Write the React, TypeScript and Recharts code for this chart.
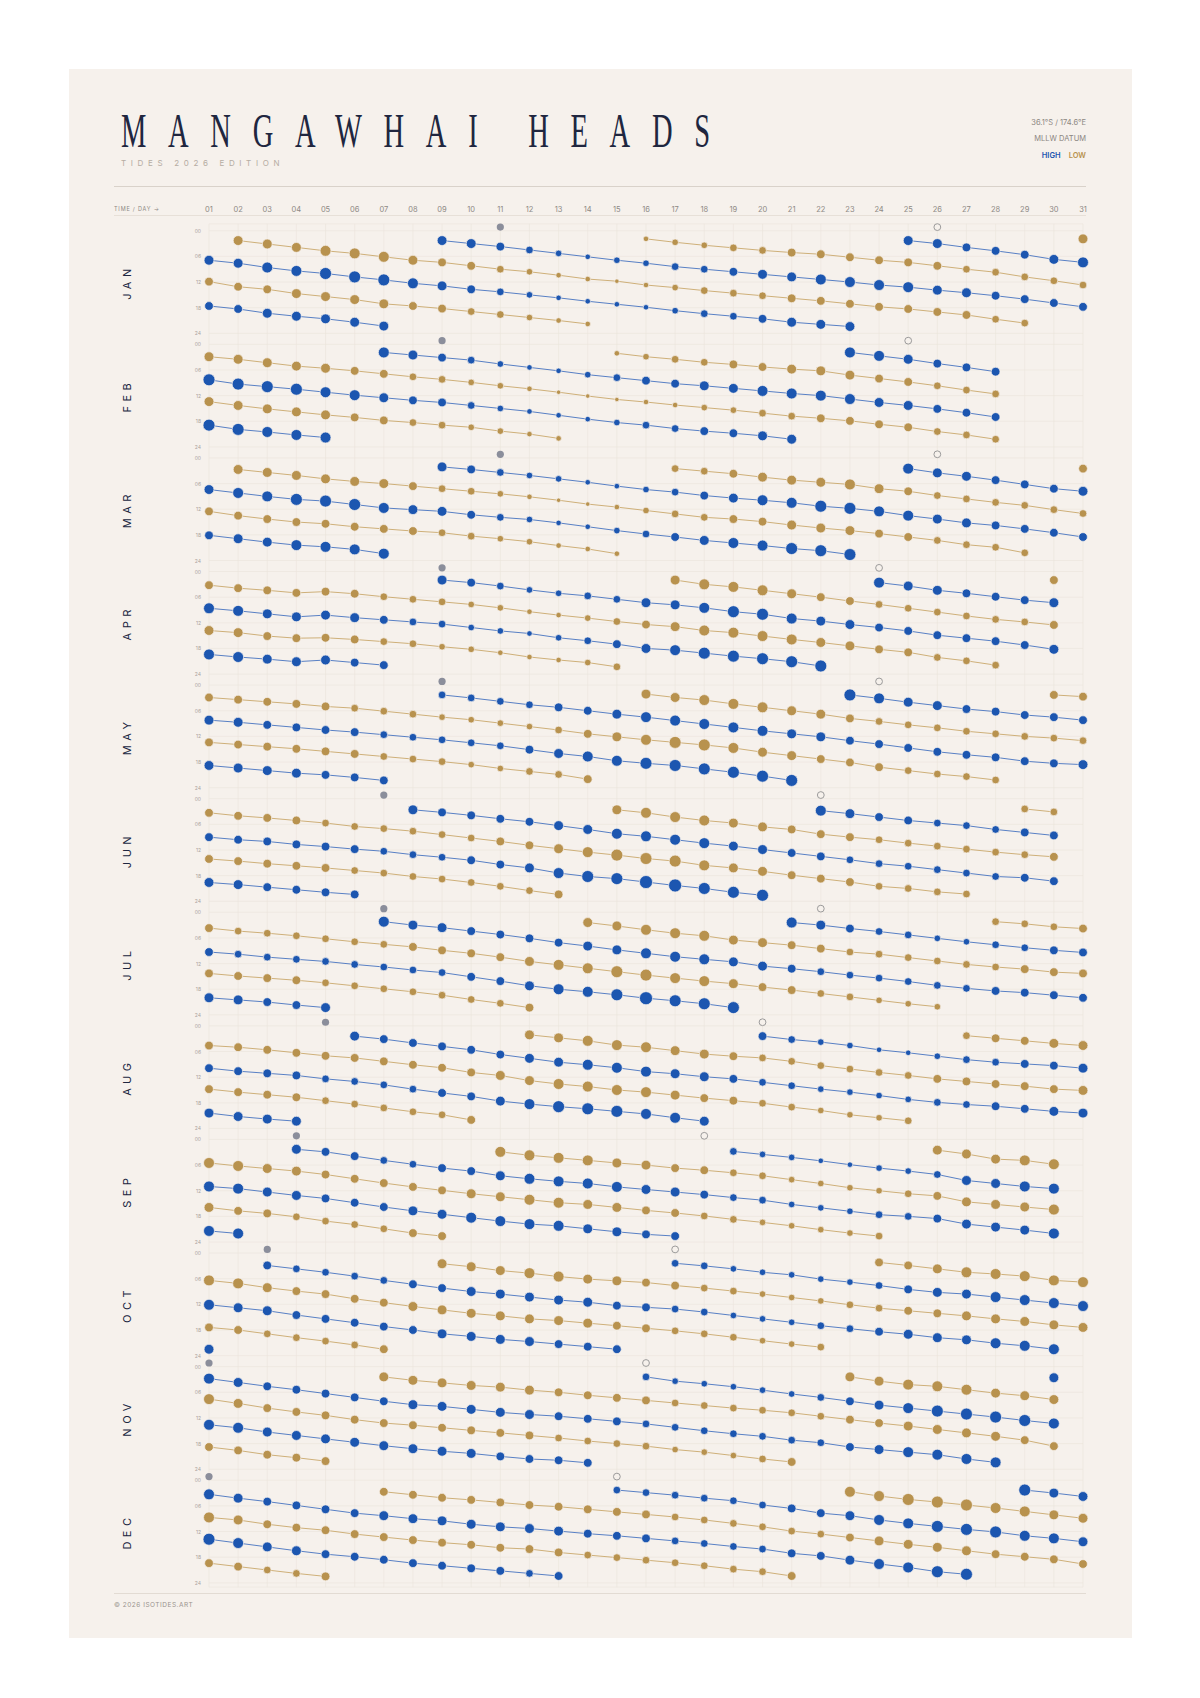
import React from "react";
import { ScatterChart, Scatter, XAxis, YAxis, CartesianGrid } from "recharts";

type Tide = "high" | "low";
type Chain = { tide: Tide; from: number; hours: number[]; mag: number[] };

const MONTHS = ["JAN", "FEB", "MAR", "APR", "MAY", "JUN", "JUL", "AUG", "SEP", "OCT", "NOV", "DEC"];
const DAY_TICKS = [1, 2, 3, 4, 5, 6, 7, 8, 9, 10, 11, 12, 13, 14, 15, 16, 17, 18, 19, 20, 21, 22, 23, 24, 25, 26, 27, 28, 29, 30, 31];
const HOUR_TICKS = [0, 6, 12, 18, 24];
const NEW_MOON_DAY = [11, 9, 11, 9, 9, 7, 7, 5, 4, 3, 1, 1];
const FULL_MOON_DAY = [26, 25, 26, 24, 24, 22, 22, 20, 18, 17, 16, 15];

// each chain = one tide carried from day to day (local time in hours, relative magnitude)
const JAN: Chain[] = [
  { tide: "high", from: 1, hours: [17.6, 18.3, 19.3, 20.0, 20.6, 21.4, 22.3], mag: [3.5, 3.5, 4, 4, 4, 4, 4] },
  { tide: "high", from: 1, hours: [6.9, 7.6, 8.6, 9.4, 10.0, 10.8, 11.5, 12.3, 12.9, 13.7, 14.3, 15.0, 15.7, 16.5, 17.2, 17.9, 18.7, 19.4, 20.0, 20.6, 21.4, 21.9, 22.4], mag: [4, 4, 4.5, 4.5, 5, 5, 5, 4.5, 4, 3.5, 3, 2.5, 2, 2, 2, 2, 2.5, 3, 3, 3.5, 4, 4, 4] },
  { tide: "high", from: 9, hours: [2.3, 3.0, 3.7, 4.5, 5.3, 6.1, 6.9, 7.6, 8.4, 9.0, 9.6, 10.2, 10.8, 11.4, 12.0, 12.7, 13.2, 13.9, 14.5, 15.2, 16.0, 16.9, 17.8], mag: [4, 4, 3.5, 3, 2.5, 2, 2.5, 2.5, 3, 3, 3.5, 4, 4, 4.5, 4.5, 4.5, 4.5, 4, 4, 3.5, 3.5, 3.5, 3.5] },
  { tide: "high", from: 25, hours: [2.3, 3.0, 3.9, 4.7, 5.6, 6.7, 7.4], mag: [4, 4, 3.5, 3.5, 3.5, 4, 4.5] },
  { tide: "low", from: 2, hours: [2.3, 3.1, 3.9, 4.7, 5.3, 6.1, 6.9, 7.4, 8.2, 9.0, 9.6, 10.4, 11.3, 11.8, 12.7, 13.3, 14.0, 14.6, 15.2, 15.8, 16.4, 17.1, 17.8, 18.3, 19.0, 19.7, 20.7, 21.6], mag: [4, 4, 4, 4.5, 4.5, 4.5, 4, 3.5, 3.5, 3, 2.5, 2, 2, 1.5, 2, 2.5, 3, 3, 3, 3.5, 3.5, 3.5, 3.5, 3.5, 3.5, 3.5, 3, 3] },
  { tide: "low", from: 1, hours: [11.9, 13.1, 13.7, 14.7, 15.4, 16.1, 17.1, 17.6, 18.2, 18.9, 19.6, 20.3, 21.0, 21.8], mag: [3.5, 3.5, 3.5, 4, 4, 4, 4, 3.5, 3.5, 3, 3, 2.5, 2, 2] },
  { tide: "low", from: 16, hours: [1.9, 2.7, 3.4, 4.0, 4.6, 5.1, 5.5, 6.2, 6.9, 7.4, 8.2, 9.0, 9.7, 10.8, 11.7, 12.7], mag: [2, 2.5, 2.5, 3, 3, 3.5, 3.5, 3.5, 3.5, 3.5, 3.5, 3, 3, 3, 3, 3] },
  { tide: "low", from: 31, hours: [1.9], mag: [4] },
];

const FEB: Chain[] = [
  { tide: "low", from: 1, hours: [2.9, 3.5, 4.3, 5.1, 5.6, 6.2, 6.9, 7.6, 8.2, 8.9, 9.7, 10.4, 11.2, 12.1, 12.9, 13.5, 14.2, 14.8, 15.4, 16.1, 16.8, 17.3, 17.9, 18.7, 19.4, 20.4, 21.2, 22.2], mag: [4, 4, 4, 4, 4, 3.5, 3.5, 3, 3, 2.5, 2.5, 2, 1.5, 1.5, 1.5, 2, 2, 2.5, 2.5, 3, 3, 3.5, 3.5, 3.5, 3.5, 3, 3, 3] },
  { tide: "low", from: 1, hours: [13.4, 14.3, 15.1, 15.8, 16.5, 17.1, 17.8, 18.3, 18.9, 19.4, 20.3, 21.0, 22.0], mag: [4, 4, 4, 4, 4, 3.5, 3.5, 3, 3, 2.5, 2.5, 2, 2] },
  { tide: "low", from: 15, hours: [2.1, 2.9, 3.5, 4.2, 4.7, 5.3, 5.8, 6.2, 7.2, 8.0, 8.8, 9.7, 10.7, 11.6], mag: [2, 2.5, 3, 3, 3.5, 3.5, 4, 4, 4, 3.5, 3.5, 3, 3, 3] },
  { tide: "high", from: 1, hours: [18.9, 19.9, 20.5, 21.2, 21.8], mag: [5, 5, 4.5, 4.5, 4.5] },
  { tide: "high", from: 1, hours: [8.3, 9.3, 9.9, 10.5, 11.2, 11.9, 12.5, 13.1, 13.6, 14.3, 15.0, 15.7, 16.6, 17.5, 18.3, 18.9, 19.7, 20.3, 20.8, 21.4, 22.2], mag: [5, 5, 5, 5, 4.5, 4.5, 4, 3.5, 3.5, 3, 2.5, 2, 2, 2, 2.5, 3, 3, 3.5, 3.5, 4, 4] },
  { tide: "high", from: 7, hours: [1.9, 2.5, 3.1, 3.7, 4.6, 5.4, 6.2, 7.1, 7.8, 8.5, 9.2, 9.7, 10.3, 10.9, 11.5, 12.0, 12.8, 13.6, 14.3, 15.1, 16.0, 17.0], mag: [4.5, 4, 3.5, 3, 2.5, 2, 2, 2.5, 3, 3.5, 3.5, 4, 4, 4.5, 4.5, 4.5, 4.5, 4, 4, 3.5, 3.5, 3.5] },
  { tide: "high", from: 23, hours: [1.9, 2.7, 3.5, 4.5, 5.4, 6.4], mag: [4.5, 4.5, 4, 3.5, 3.5, 3.5] },
];

const MAR: Chain[] = [
  { tide: "low", from: 2, hours: [2.7, 3.4, 4.1, 4.9, 5.5, 6.0, 6.6, 7.2, 7.8, 8.4, 9.1, 9.9, 10.8, 11.5, 12.3, 13.1, 13.9, 14.3, 14.9, 15.7, 16.4, 17.0, 17.7, 18.5, 19.3, 20.3, 20.9, 22.2], mag: [4, 4, 4, 4, 4, 4, 3.5, 3, 3, 2.5, 2, 1.5, 1.5, 2, 2.5, 3, 3, 3.5, 3.5, 4, 4, 4, 3.5, 3.5, 3, 3, 3, 3] },
  { tide: "high", from: 1, hours: [7.4, 8.2, 9.0, 9.7, 10.1, 10.9, 11.7, 12.1, 12.5, 13.3, 13.9, 14.4, 15.2, 16.1, 17.0, 17.8, 18.5, 19.3, 19.9, 20.5, 21.2, 21.7, 22.6], mag: [4, 4.5, 4.5, 5, 5, 5, 4.5, 4, 4, 3.5, 3, 2.5, 2, 2, 2.5, 3, 3.5, 4, 4.5, 4.5, 5, 5, 5] },
  { tide: "high", from: 9, hours: [2.1, 2.7, 3.4, 4.1, 4.9, 5.7, 6.6, 7.4, 8.0, 8.8, 9.4, 9.9, 10.5, 11.3, 11.8, 12.5, 13.5, 14.3, 15.2, 15.8, 16.6, 17.5, 18.5], mag: [4, 3.5, 3, 2.5, 2.5, 2, 2, 2.5, 3, 3.5, 4, 4.5, 4.5, 5, 5, 4.5, 4.5, 4, 4, 3.5, 3.5, 3.5, 3.5] },
  { tide: "high", from: 25, hours: [2.5, 3.5, 4.3, 5.2, 6.2, 7.2, 7.8], mag: [4.5, 4, 4, 3.5, 3.5, 3.5, 4] },
  { tide: "high", from: 1, hours: [18.1, 18.9, 19.7, 20.4, 20.8, 21.4, 22.4], mag: [3.5, 4, 4, 4.5, 4.5, 4.5, 4.5] },
  { tide: "low", from: 1, hours: [12.5, 13.5, 14.3, 15.0, 15.4, 16.1, 16.6, 17.1, 17.5, 18.3, 18.9, 19.6, 20.5, 21.3, 22.4], mag: [3.5, 3.5, 3.5, 3.5, 3.5, 3.5, 3.5, 3.5, 3, 3, 2.5, 2.5, 2, 2, 2] },
  { tide: "low", from: 17, hours: [2.5, 3.1, 3.7, 4.5, 5.2, 5.7, 6.2, 7.2, 7.8, 8.8, 9.6, 10.4, 11.1, 12.1, 13.0], mag: [3, 3, 3.5, 4, 4, 4, 4.5, 4, 3.5, 3, 3, 3, 3, 3, 3] },
  { tide: "low", from: 31, hours: [2.5], mag: [3.5] },
];

const APR: Chain[] = [
  { tide: "low", from: 1, hours: [3.2, 3.9, 4.4, 5.0, 4.7, 5.2, 5.9, 6.5, 7.1, 7.7, 8.5, 9.4, 10.2, 10.9, 11.7, 12.4, 12.9, 13.8, 14.3, 15.1, 15.9, 16.6, 17.4, 18.2, 18.9, 20.1, 20.9, 21.9], mag: [3.5, 3.5, 3.5, 3.5, 3.5, 3.5, 3, 3, 3, 2.5, 2.5, 2, 2, 2.5, 3, 3.5, 4, 4.5, 4.5, 4.5, 4.5, 4, 4, 3.5, 3.5, 3, 3, 3] },
  { tide: "high", from: 1, hours: [8.6, 9.2, 9.9, 10.6, 10.2, 10.8, 11.3, 11.8, 12.3, 13.1, 13.9, 14.5, 15.5, 16.2, 17.0, 18.0, 18.4, 19.1, 19.8, 20.4, 21.1, 22.1], mag: [4.5, 4.5, 4, 4, 4, 4, 3.5, 3, 3, 2.5, 2.5, 2, 2.5, 3, 3.5, 4, 4.5, 5, 5, 5, 5, 5] },
  { tide: "high", from: 9, hours: [2.0, 2.6, 3.4, 4.3, 5.1, 5.7, 6.5, 7.3, 7.8, 8.5, 9.4, 10.0, 11.0, 11.6, 12.4, 13.1, 13.9, 14.9, 15.6, 16.3, 17.2, 18.2], mag: [4, 3.5, 3, 2.5, 2.5, 3, 3, 4, 4, 4.5, 5, 5, 4.5, 4, 4, 3.5, 3.5, 3.5, 3.5, 3.5, 3.5, 4] },
  { tide: "high", from: 24, hours: [2.6, 3.4, 4.4, 5.1, 5.9, 6.7, 7.3], mag: [4.5, 4, 4, 3.5, 3.5, 3.5, 4] },
  { tide: "high", from: 1, hours: [19.4, 20.0, 20.5, 21.1, 20.7, 21.3, 21.9], mag: [4.5, 4.5, 4, 4, 4, 3.5, 3.5] },
  { tide: "low", from: 1, hours: [13.8, 14.3, 15.1, 15.6, 15.5, 15.9, 16.4, 16.9, 17.6, 18.2, 19.0, 20.0, 20.7, 21.3, 22.3], mag: [4, 4, 3.5, 3.5, 3.5, 3.5, 3, 3, 2.5, 2.5, 2, 2, 2, 2.5, 3] },
  { tide: "low", from: 17, hours: [2.0, 3.0, 3.6, 4.4, 5.2, 6.0, 6.9, 7.7, 8.6, 9.5, 10.4, 11.2, 11.8, 12.5], mag: [4, 4.5, 4.5, 4.5, 4, 3.5, 3.5, 3, 3, 3, 3, 3, 3, 3.5] },
  { tide: "low", from: 30, hours: [2.0], mag: [3.5] },
];

const MAY: Chain[] = [
  { tide: "low", from: 1, hours: [2.9, 3.4, 3.9, 4.4, 5.0, 5.4, 6.1, 6.8, 7.5, 8.1, 8.9, 9.7, 10.5, 11.4, 12.1, 12.8, 13.4, 14.0, 14.7, 15.7, 16.5, 17.3, 18.1, 19.2, 20.0, 20.8, 21.4, 22.2], mag: [3.5, 3.5, 3.5, 3.5, 3.5, 3, 3, 3, 2.5, 2.5, 2.5, 2.5, 3, 3.5, 4, 4.5, 5, 5, 4.5, 4, 4, 3.5, 3.5, 3.5, 3, 3, 3, 3] },
  { tide: "high", from: 1, hours: [8.2, 8.7, 9.3, 9.9, 10.5, 11.0, 11.6, 12.2, 12.8, 13.5, 14.2, 15.1, 16.0, 16.7, 17.7, 18.3, 18.8, 19.6, 20.4, 21.3, 22.3], mag: [4, 4, 3.5, 3.5, 3.5, 3.5, 3, 3, 3, 3, 3, 3.5, 4, 4.5, 4.5, 5, 5, 5, 5, 5, 5] },
  { tide: "low", from: 1, hours: [13.4, 13.9, 14.4, 14.9, 15.5, 16.1, 16.7, 17.3, 17.9, 18.6, 19.5, 20.2, 20.9, 22.0], mag: [3.5, 3.5, 3.5, 3.5, 3.5, 3.5, 3, 3, 3, 2.5, 2.5, 3, 3, 3.5] },
  { tide: "high", from: 1, hours: [18.8, 19.4, 20.0, 20.6, 21.0, 21.6, 22.3], mag: [4, 4, 4, 4, 3.5, 3.5, 3.5] },
  { tide: "high", from: 9, hours: [2.3, 3.0, 3.8, 4.6, 5.2, 6.0, 6.8, 7.5, 8.3, 9.1, 9.9, 10.7, 11.4, 12.1, 13.0, 13.8, 14.7, 15.6, 16.3, 16.9, 17.8, 18.3, 18.6], mag: [3, 3, 3, 3, 3.5, 3.5, 4, 4.5, 4.5, 4.5, 4.5, 4.5, 4, 4, 3.5, 3.5, 3.5, 3.5, 3.5, 3.5, 3.5, 3.5, 4] },
  { tide: "low", from: 16, hours: [2.1, 2.9, 3.5, 4.4, 5.2, 6.0, 6.8, 7.8, 8.5, 9.3, 10.0, 10.8, 11.4, 12.0, 12.4, 13.0], mag: [4, 4, 4.5, 4.5, 4.5, 4, 4, 3.5, 3, 3, 3, 3, 3, 3, 3, 3] },
  { tide: "high", from: 23, hours: [2.3, 3.1, 4.0, 4.8, 5.6, 6.2, 7.0, 7.5, 8.2], mag: [5, 4.5, 4, 4, 3.5, 3.5, 3.5, 3.5, 3.5] },
  { tide: "low", from: 30, hours: [2.3, 2.7], mag: [3.5, 3.5] },
];

const JUN: Chain[] = [
  { tide: "low", from: 1, hours: [3.3, 4.0, 4.5, 5.1, 5.7, 6.5, 7.0, 7.6, 8.4, 9.2, 10.0, 10.9, 11.7, 12.5, 13.2, 14.0, 14.6, 15.6, 16.2, 17.0, 17.9, 18.7, 19.5, 20.5, 21.0, 21.8, 22.3], mag: [3.5, 3.5, 3.5, 3.5, 3, 3, 3, 3, 3, 3, 3.5, 3.5, 4, 4.5, 5, 5, 5, 4.5, 4, 4, 3.5, 3.5, 3.5, 3, 3, 3, 3] },
  { tide: "high", from: 1, hours: [9.0, 9.6, 10.0, 10.7, 11.2, 11.8, 12.3, 13.1, 13.7, 14.4, 15.4, 16.2, 17.4, 18.2, 18.7, 19.5, 20.3, 21.0, 21.9, 22.6], mag: [3.5, 3.5, 3.5, 3.5, 3.5, 3.5, 3, 3, 3, 3.5, 3.5, 4, 4.5, 5, 5, 5.5, 5.5, 5, 5, 5] },
  { tide: "low", from: 1, hours: [14.1, 14.6, 15.2, 15.7, 16.2, 16.8, 17.4, 18.2, 18.8, 19.6, 20.5, 21.5, 22.4], mag: [3.5, 3.5, 3.5, 3.5, 3.5, 3, 3, 3, 3, 3, 3, 3, 3.5] },
  { tide: "high", from: 1, hours: [19.6, 20.1, 20.7, 21.3, 21.9, 22.4], mag: [4, 4, 3.5, 3.5, 3.5, 3.5] },
  { tide: "high", from: 8, hours: [2.6, 3.2, 3.9, 4.7, 5.4, 6.3, 7.2, 8.2, 8.8, 9.6, 10.4, 11.1, 11.9, 12.7, 13.5, 14.3, 15.2, 15.8, 16.6, 17.4, 18.2, 18.5, 19.3], mag: [4, 3.5, 3.5, 3.5, 3.5, 4, 4, 4.5, 4.5, 4.5, 4.5, 4, 4, 3.5, 3.5, 3, 3, 3, 3, 3, 3, 3.5, 3.5] },
  { tide: "low", from: 15, hours: [2.6, 3.3, 4.3, 5.1, 5.7, 6.6, 7.2, 8.3, 9.0, 9.6, 10.4, 11.1, 11.8, 12.5, 13.1, 13.6], mag: [4, 4.5, 4.5, 4.5, 4, 4, 3.5, 3.5, 3.5, 3, 3, 3, 3, 3, 3, 3.5] },
  { tide: "high", from: 22, hours: [2.8, 3.5, 4.3, 5.1, 5.7, 6.3, 7.2, 7.9, 8.6], mag: [4.5, 4, 3.5, 3.5, 3, 3, 3, 3.5, 3.5] },
  { tide: "low", from: 29, hours: [2.4, 3.1], mag: [3, 3] },
];

const JUL: Chain[] = [
  { tide: "low", from: 1, hours: [3.7, 4.4, 4.9, 5.5, 6.2, 6.9, 7.5, 8.1, 8.9, 9.6, 10.5, 11.5, 12.3, 13.1, 13.9, 14.7, 15.4, 16.1, 16.7, 17.5, 18.2, 19.0, 19.8, 20.6, 21.4, 22.1], mag: [3.5, 3, 3, 3, 3, 3, 3, 3.5, 3.5, 3.5, 3.5, 4, 4.5, 4.5, 5, 5, 4.5, 4.5, 4, 3.5, 3.5, 3, 3, 2.5, 2.5, 2.5] },
  { tide: "high", from: 1, hours: [9.3, 9.8, 10.5, 11.0, 11.5, 12.2, 12.8, 13.5, 14.1, 15.1, 16.1, 17.2, 18.0, 18.6, 19.3, 20.1, 20.7, 21.4, 22.3], mag: [3.5, 3, 3, 3, 3, 3, 3, 3, 3, 3.5, 3.5, 4, 4.5, 4.5, 5, 5.5, 5, 5, 5] },
  { tide: "low", from: 1, hours: [14.3, 14.9, 15.4, 15.9, 16.5, 17.2, 17.9, 18.6, 19.4, 20.4, 21.3, 22.3], mag: [3.5, 3.5, 3.5, 3.5, 3, 3, 3, 3, 3, 3, 3, 3.5] },
  { tide: "high", from: 1, hours: [20.0, 20.5, 21.0, 21.7, 22.3], mag: [4, 4, 3.5, 3.5, 4] },
  { tide: "high", from: 7, hours: [2.2, 3.0, 3.6, 4.4, 5.2, 6.1, 7.1, 7.9, 8.8, 9.6, 10.4, 11.0, 11.6, 12.6, 13.2, 13.9, 14.7, 15.4, 16.2, 17.1, 17.8, 18.4, 18.8, 19.4, 20.0], mag: [4.5, 4, 4, 3.5, 3.5, 3.5, 3.5, 4, 4, 4.5, 4.5, 4.5, 4, 4, 3.5, 3, 3, 3, 3, 3, 3, 3.5, 3.5, 3.5, 3.5] },
  { tide: "low", from: 14, hours: [2.4, 3.2, 4.1, 4.9, 5.5, 6.5, 7.1, 7.7, 8.5, 9.3, 9.8, 10.6, 11.4, 12.2, 12.8, 13.3, 14.0, 14.3], mag: [4, 4, 4.5, 4.5, 4.5, 4, 4, 3.5, 3.5, 3, 3, 3, 3, 3, 3, 3.5, 3.5, 3.5] },
  { tide: "high", from: 21, hours: [2.4, 3.0, 3.8, 4.5, 5.3, 6.1, 6.9, 7.6, 8.3, 8.9, 9.4], mag: [4.5, 4, 3.5, 3, 3, 2.5, 2.5, 3, 3, 3.5, 3.5] },
  { tide: "low", from: 28, hours: [2.2, 2.7, 3.4, 3.8], mag: [3, 3, 3, 3.5] },
];

const AUG: Chain[] = [
  { tide: "low", from: 1, hours: [4.6, 5.0, 5.6, 6.3, 7.0, 7.5, 8.3, 9.1, 9.8, 10.9, 11.6, 12.8, 13.6, 14.2, 15.0, 15.5, 16.2, 16.9, 17.5, 18.1, 19.0, 19.8, 20.8, 21.5, 22.2], mag: [3.5, 3.5, 3.5, 3.5, 3.5, 3.5, 3.5, 3.5, 3.5, 3.5, 4, 4, 4.5, 4.5, 4.5, 4.5, 4, 3.5, 3.5, 3, 3, 2.5, 2.5, 2.5, 3] },
  { tide: "high", from: 1, hours: [9.9, 10.6, 11.1, 11.6, 12.4, 13.0, 13.8, 14.8, 15.7, 16.5, 17.6, 18.3, 18.9, 19.4, 20.0, 20.6, 21.5, 22.3], mag: [3.5, 3.5, 3.5, 3.5, 3, 3, 3, 3, 3.5, 3.5, 4, 4.5, 5, 5, 5, 4.5, 4.5, 4] },
  { tide: "low", from: 1, hours: [14.8, 15.5, 16.1, 16.7, 17.5, 18.3, 19.2, 20.1, 20.8, 22.0], mag: [3.5, 3.5, 3.5, 3.5, 3, 3, 3, 3, 3, 3.5] },
  { tide: "high", from: 1, hours: [20.4, 21.2, 21.8, 22.3], mag: [4, 4, 4, 4] },
  { tide: "high", from: 6, hours: [2.4, 3.1, 4.0, 4.8, 5.6, 6.7, 7.6, 8.5, 9.1, 9.8, 10.7, 11.2, 11.9, 12.4, 13.2, 14.0, 14.8, 15.5, 16.3, 17.2, 17.9, 18.4, 18.8, 19.4, 20.0, 20.4], mag: [4, 3.5, 3.5, 3.5, 3.5, 3.5, 4, 4, 4.5, 4.5, 4.5, 4, 4, 3.5, 3, 3, 2.5, 2.5, 2.5, 2.5, 3, 3, 3.5, 3.5, 4, 4] },
  { tide: "low", from: 12, hours: [2.1, 2.8, 3.5, 4.5, 5.0, 5.8, 6.6, 7.1, 7.5, 8.3, 9.3, 10.1, 10.9, 11.6, 12.4, 13.0, 13.6, 14.1, 14.8, 15.1], mag: [4, 4, 4.5, 4.5, 4.5, 4, 4, 3.5, 3, 3, 3, 3, 3, 3, 3.5, 3.5, 3.5, 3.5, 3.5, 4] },
  { tide: "high", from: 20, hours: [2.4, 3.2, 3.8, 4.6, 5.6, 6.3, 7.1, 7.9, 8.5, 8.9, 9.3, 9.9], mag: [3.5, 3, 2.5, 2.5, 2, 2, 2.5, 3, 3, 3.5, 3.5, 4] },
  { tide: "low", from: 27, hours: [2.3, 2.9, 3.5, 4.1, 4.6], mag: [3, 3.5, 3.5, 4, 4] },
];

const SEP: Chain[] = [
  { tide: "low", from: 1, hours: [5.5, 6.2, 6.8, 7.4, 8.2, 9.2, 10.2, 11.1, 11.9, 12.7, 13.4, 14.1, 14.8, 15.2, 15.9, 16.6, 17.2, 17.9, 18.7, 19.4, 20.2, 21.1, 21.9, 22.6], mag: [4.5, 4.5, 4, 4, 3.5, 3.5, 3.5, 3.5, 3.5, 4, 4, 4.5, 4.5, 4, 4, 3.5, 3.5, 3, 3, 2.5, 2.5, 2.5, 2.5, 3] },
  { tide: "high", from: 1, hours: [11.0, 11.5, 12.3, 13.1, 13.8, 14.8, 15.8, 16.7, 17.5, 18.3, 19.1, 19.8, 20.2, 20.9, 21.6, 22.2, 22.6], mag: [4.5, 4.5, 4, 4, 3.5, 3.5, 3.5, 4, 4, 4.5, 4.5, 4.5, 4.5, 4, 4, 3.5, 3.5] },
  { tide: "low", from: 1, hours: [15.9, 16.7, 17.3, 18.1, 19.1, 19.9, 20.9, 21.9, 22.6], mag: [4, 3.5, 3.5, 3, 3, 3, 3, 3.5, 3.5] },
  { tide: "high", from: 1, hours: [21.4, 22.0], mag: [4.5, 4.5] },
  { tide: "high", from: 4, hours: [2.3, 2.9, 3.9, 4.9, 5.8, 6.7, 7.4, 8.5, 9.2, 9.8, 10.3, 11.1, 11.7, 12.3, 12.9, 13.6, 14.2, 15.2, 16.0, 16.8, 17.6, 18.0, 18.5, 19.8, 20.5, 21.2, 22.0], mag: [4, 3.5, 3.5, 3, 3, 3.5, 3.5, 4, 4.5, 4.5, 4.5, 4.5, 4, 4, 3.5, 3, 3, 2.5, 2.5, 2.5, 3, 3, 3.5, 4, 4, 4, 4.5] },
  { tide: "low", from: 11, hours: [2.9, 3.7, 4.3, 4.9, 5.5, 6.0, 6.7, 7.2, 7.8, 8.5, 9.4, 10.3, 11.3, 12.0, 12.7, 13.2, 14.6, 15.2, 15.8, 16.4], mag: [4.5, 4.5, 4.5, 4.5, 4, 4, 3.5, 3.5, 3, 3, 2.5, 2.5, 2.5, 2.5, 3, 3.5, 4, 4, 4, 4.5] },
  { tide: "high", from: 19, hours: [2.8, 3.5, 4.2, 5.0, 5.9, 6.7, 7.4, 8.2, 9.6, 10.3, 11.0, 11.5], mag: [3, 2.5, 2.5, 2, 2, 2.5, 2.5, 3, 4, 4, 4.5, 4.5] },
  { tide: "low", from: 26, hours: [2.5, 3.4, 4.6, 4.9, 5.8], mag: [4, 4, 4, 4.5, 4.5] },
];

const OCT: Chain[] = [
  { tide: "low", from: 1, hours: [6.4, 7.1, 8.1, 8.9, 9.6, 10.7, 11.6, 12.5, 13.3, 14.1, 14.7, 15.4, 15.8, 16.4, 17.0, 17.6, 18.2, 18.9, 19.7, 20.5, 21.3, 22.0], mag: [4.5, 4.5, 4, 3.5, 3.5, 3.5, 3.5, 4, 4, 4, 4, 4, 4, 4, 3.5, 3.5, 3, 3, 3, 2.5, 2.5, 3] },
  { tide: "high", from: 1, hours: [12.1, 12.8, 13.5, 14.5, 15.4, 16.3, 17.2, 18.0, 18.9, 19.5, 20.2, 20.7, 21.3, 21.9, 22.5], mag: [4.5, 4, 4, 3.5, 3.5, 3.5, 3.5, 3.5, 4, 4, 4, 4, 3.5, 3.5, 3.5] },
  { tide: "low", from: 1, hours: [17.4, 18.0, 18.9, 19.8, 20.6, 21.5, 22.5], mag: [3.5, 3.5, 3, 3, 3, 3, 3.5] },
  { tide: "high", from: 1, hours: [22.5], mag: [4] },
  { tide: "high", from: 3, hours: [2.9, 3.7, 4.5, 5.4, 6.4, 7.3, 8.2, 9.0, 9.6, 10.3, 11.0, 11.5, 12.3, 12.7, 13.1, 13.8, 14.6, 15.4, 16.2, 17.0, 17.7, 18.4, 19.0, 19.8, 20.3, 21.1, 21.7, 22.5], mag: [3.5, 3, 3, 3, 3, 3.5, 3.5, 4, 4, 4, 4, 4, 3.5, 3.5, 3, 3, 2.5, 2.5, 2.5, 3, 3, 3.5, 4, 4, 4, 4.5, 4.5, 4.5] },
  { tide: "low", from: 9, hours: [2.5, 3.2, 4.1, 4.7, 5.5, 6.1, 6.5, 6.9, 7.6, 8.2, 8.9, 9.6, 10.4, 11.2, 12.1, 12.9, 13.5, 14.1, 14.7, 15.4, 16.0, 16.8, 17.4], mag: [4, 4, 4, 4.5, 4.5, 4, 4, 3.5, 3.5, 3, 3, 2.5, 2.5, 2.5, 3, 3, 3.5, 3.5, 4, 4, 4, 4, 4] },
  { tide: "high", from: 17, hours: [2.4, 3.0, 3.7, 4.5, 5.1, 6.1, 6.8, 7.6, 8.5, 9.2, 9.6, 10.3, 11.0, 11.7, 12.4], mag: [3, 3, 2.5, 2.5, 2.5, 2.5, 2.5, 3, 3.5, 4, 4, 4.5, 4.5, 4.5, 4.5] },
  { tide: "low", from: 24, hours: [2.2, 2.9, 3.7, 4.5, 4.9, 5.4, 6.4, 6.8], mag: [3.5, 3.5, 4, 4.5, 4.5, 4.5, 4.5, 4.5] },
];

const NOV: Chain[] = [
  { tide: "high", from: 1, hours: [2.8, 3.7, 4.6, 5.4, 6.3, 7.2, 8.1, 8.9, 9.3, 10.0, 10.7, 11.2, 11.6, 12.2, 12.8, 13.4, 14.2, 15.0, 15.7, 16.3, 17.2, 17.8, 18.8, 19.4, 20.0, 20.6, 21.6, 22.4], mag: [4.5, 4, 3.5, 3.5, 3.5, 3.5, 3.5, 4, 4, 4, 4, 4, 3.5, 3.5, 3.5, 3, 3, 3, 3, 3, 3, 3, 3.5, 4, 4.5, 4.5, 4.5, 4.5] },
  { tide: "low", from: 1, hours: [7.6, 8.6, 9.7, 10.6, 11.4, 12.4, 13.2, 13.7, 14.3, 14.9, 15.5, 16.1, 16.7, 17.4, 18.0, 18.6, 19.4, 20.0, 20.8, 21.6, 22.3], mag: [4.5, 4, 3.5, 3.5, 3.5, 3.5, 3.5, 3.5, 3.5, 3.5, 3.5, 3.5, 3, 3, 3, 3, 2.5, 2.5, 2.5, 3, 3.5] },
  { tide: "high", from: 1, hours: [13.6, 14.3, 15.3, 16.1, 16.9, 17.7, 18.5, 19.2, 19.8, 20.3, 21.0, 21.6, 21.9, 22.5], mag: [4.5, 4.5, 4, 4, 4, 4, 4, 4, 4, 4, 3.5, 3.5, 3.5, 3.5] },
  { tide: "low", from: 1, hours: [18.8, 19.6, 20.6, 21.3, 22.1], mag: [3.5, 3.5, 3.5, 3.5, 3.5] },
  { tide: "low", from: 7, hours: [2.4, 3.2, 3.8, 4.4, 4.8, 5.5, 6.0, 6.7, 7.3, 7.9, 8.5, 9.1, 9.7, 10.2, 10.8, 11.6, 12.4, 13.2, 13.9, 14.7, 15.5, 16.3, 17.2, 18.6], mag: [4, 4, 4, 4, 4, 4, 3.5, 3.5, 3.5, 3.5, 3, 3, 3, 3, 3, 3, 3.5, 3.5, 4, 4, 4, 4, 3.5, 3.5] },
  { tide: "high", from: 16, hours: [2.4, 3.4, 4.0, 4.7, 5.5, 6.4, 7.2, 8.1, 9.0, 9.7, 10.4, 11.1, 11.8, 12.6, 13.3], mag: [3, 2.5, 2.5, 2.5, 2.5, 2.5, 3, 3.5, 4, 4.5, 5, 5, 5, 5, 4.5] },
  { tide: "low", from: 23, hours: [2.4, 3.4, 4.2, 4.6, 5.4, 6.2, 6.8, 7.7], mag: [4, 4, 4.5, 4.5, 4.5, 4, 4, 4] },
  { tide: "high", from: 30, hours: [2.6], mag: [4] },
];

const DEC: Chain[] = [
  { tide: "high", from: 1, hours: [3.3, 4.2, 5.0, 5.9, 6.8, 7.7, 8.3, 9.0, 9.5, 10.3, 10.9, 11.3, 11.9, 12.5, 13.0, 13.6, 14.2, 14.8, 15.5, 16.1, 17.1, 17.7, 18.7, 19.6, 20.4, 21.4, 22.0], mag: [4.5, 4, 3.5, 3.5, 3.5, 3.5, 4, 4, 4, 4, 4, 4, 4, 3.5, 3.5, 3.5, 3, 3, 3, 3, 3.5, 3.5, 4, 4.5, 4.5, 5, 5] },
  { tide: "low", from: 1, hours: [8.7, 9.3, 10.3, 11.1, 11.7, 12.6, 13.3, 14.0, 14.6, 15.1, 15.8, 16.1, 16.9, 17.5, 18.1, 18.7, 19.3, 20.0, 20.8, 21.4, 22.4], mag: [4.5, 4, 3.5, 3.5, 3.5, 3.5, 3.5, 3.5, 3.5, 3.5, 3.5, 3.5, 3.5, 3, 3, 3, 3, 3, 3, 3, 3.5] },
  { tide: "high", from: 1, hours: [13.8, 14.7, 15.6, 16.5, 17.3, 17.9, 18.6, 19.4, 20.0, 20.6, 21.2, 21.8, 22.4], mag: [5, 4.5, 4, 4, 3.5, 3.5, 3.5, 3.5, 3.5, 3.5, 3.5, 3, 3.5] },
  { tide: "low", from: 1, hours: [19.4, 20.2, 21.0, 21.8, 22.5], mag: [3.5, 3.5, 3, 3, 3.5] },
  { tide: "low", from: 7, hours: [2.7, 3.4, 4.1, 4.6, 5.2, 5.8, 6.2, 6.8, 7.4, 8.0, 8.6, 9.3, 10.1, 10.9, 11.9, 12.6, 13.4, 14.2, 15.0, 15.7, 16.5, 17.3, 17.9, 18.5, 19.6], mag: [3.5, 3.5, 3.5, 3.5, 3.5, 3.5, 3.5, 3.5, 3.5, 3.5, 3, 3, 3, 3, 3, 3, 3.5, 4, 4, 4, 4, 3.5, 3.5, 3.5, 3.5] },
  { tide: "high", from: 15, hours: [2.3, 2.9, 3.5, 4.2, 4.8, 5.8, 6.6, 7.7, 8.3, 9.3, 10.1, 10.8, 11.5, 12.1, 13.0, 13.6, 14.4], mag: [3, 3, 3, 3, 3, 3, 3.5, 3.5, 4, 4.5, 4.5, 5, 5, 5, 4.5, 4.5, 4] },
  { tide: "low", from: 23, hours: [2.7, 3.7, 4.5, 5.1, 5.8, 6.5, 7.3, 8.1, 8.9], mag: [4.5, 4.5, 5, 5, 5, 4.5, 4.5, 4, 4] },
  { tide: "high", from: 29, hours: [2.3, 3.0, 3.8], mag: [5, 4, 4] },
];

const YEAR = [JAN, FEB, MAR, APR, MAY, JUN, JUL, AUG, SEP, OCT, NOV, DEC];

// ---- layout / style
const W = 1200;
const H = 1698;
const PITCH = 26.57; // one month band (24h + gap), in hour units
const Y_MIN = -1.6;
const Y_MAX = 11 * PITCH + 25;
const BG = "#f6f1ec";
const BLUE = "#1c56b0";
const GOLD = "#b8924e";
const BLUE_LINE = "#4673c0";
const GOLD_LINE = "#c9a86c";
const INK = "#20263f";
const SANS = "Inter, 'Noto Sans', sans-serif";
const MOON_OFFSET = -0.85;

const pad2 = (n: number) => String(n).padStart(2, "0");
const radius = (mag: number) => 0.6 + 1.08 * mag;

const series = YEAR.flatMap((chains, m) =>
  chains.map((c, i) => ({
    key: `${m}-${i}`,
    tide: c.tide,
    data: c.hours.map((h, j) => ({ x: c.from + j, y: m * PITCH + h, mag: c.mag[j] })),
  }))
);
const newMoons = NEW_MOON_DAY.map((d, m) => ({ x: d, y: m * PITCH + MOON_OFFSET }));
const fullMoons = FULL_MOON_DAY.map((d, m) => ({ x: d, y: m * PITCH + MOON_OFFSET }));
const hourTicks = MONTHS.flatMap((_, m) => HOUR_TICKS.map((h) => m * PITCH + h));
const monthTicks = MONTHS.map((_, m) => m * PITCH + 12);

const highDot = (p: any) =>
  p.cx == null ? <g /> : <circle cx={p.cx} cy={p.cy} r={radius(p.payload.mag)} fill={BLUE} stroke={BG} strokeWidth={0.7} />;
const lowDot = (p: any) =>
  p.cx == null ? <g /> : <circle cx={p.cx} cy={p.cy} r={radius(p.payload.mag)} fill={GOLD} stroke={BG} strokeWidth={0.7} />;
const newMoonDot = (p: any) => <circle cx={p.cx} cy={p.cy} r={3.6} fill="#8b8e9b" />;
const fullMoonDot = (p: any) => <circle cx={p.cx} cy={p.cy} r={3.4} fill={BG} stroke="#9c9b9b" strokeWidth={1} />;

const DayTick = (p: any) => (
  <text x={p.x} y={209} textAnchor="middle" dominantBaseline="central" fontSize={7.5} fill="#8e8984" fontFamily={SANS}>
    {pad2(p.payload.value)}
  </text>
);
const HourTick = (p: any) => {
  const v = p.payload.value;
  const m = Math.floor((v + 1) / PITCH);
  return (
    <text x={201} y={p.y} textAnchor="end" dominantBaseline="central" fontSize={5} fill="#aaa39c" fontFamily={SANS}>
      {pad2(Math.round(v - m * PITCH))}
    </text>
  );
};
const MonthTick = (p: any) => {
  const m = Math.round((p.payload.value - 12) / PITCH);
  return (
    <text
      x={127}
      y={p.y}
      transform={`rotate(-90 127 ${p.y})`}
      textAnchor="middle"
      dominantBaseline="central"
      fontSize={11}
      letterSpacing={4.5}
      fontWeight={400}
      fill={INK}
      fontFamily={SANS}
    >
      {MONTHS[m]}
    </text>
  );
};

const abs = (s: React.CSSProperties): React.CSSProperties => ({ position: "absolute", whiteSpace: "nowrap", ...s });

export default function App() {
  return (
    <div style={abs({ left: 0, top: 0, width: W, height: H, background: "#ffffff", overflow: "hidden" })}>
      <div style={abs({ left: 69, top: 69, width: 1063, height: 1569, background: BG })} />

      <div
        style={abs({
          left: 121,
          top: 106.6,
          fontFamily: "'Liberation Serif', 'DejaVu Serif', serif",
          fontSize: 46,
          lineHeight: "46px",
          letterSpacing: 35,
          color: INK,
          transform: "scale(0.62, 1.05)",
          transformOrigin: "left top",
        })}
      >
        MANGAWHAI HEADS
      </div>
      <div style={abs({ left: 121, top: 158, fontFamily: SANS, fontSize: 8, lineHeight: "11px", letterSpacing: 4.65, color: "#b5aca2" })}>
        TIDES 2026 EDITION
      </div>

      <div style={abs({ right: 114, top: 117, fontFamily: SANS, fontSize: 7.5, lineHeight: "11px", color: "#8b8681", textAlign: "right" })}>
        36.1°S / 174.6°E
      </div>
      <div style={abs({ right: 114, top: 133, fontFamily: SANS, fontSize: 7.5, lineHeight: "11px", color: "#8b8681", textAlign: "right" })}>
        MLLW DATUM
      </div>
      <div style={abs({ right: 114, top: 149.5, fontFamily: SANS, fontSize: 7.5, lineHeight: "11px", fontWeight: 600, textAlign: "right" })}>
        <span style={{ color: BLUE }}>HIGH</span>
        <span style={{ color: GOLD, marginLeft: 8 }}>LOW</span>
      </div>

      <div style={abs({ left: 114, top: 186, width: 972, height: 1, background: "#d9d2ca" })} />
      <div style={abs({ left: 114, top: 215, width: 972, height: 1, background: "#e7e0d8" })} />
      <div style={abs({ left: 114, top: 205, fontFamily: SANS, fontSize: 5.5, lineHeight: "8px", letterSpacing: 0.8, color: "#8d8883" })}>
        TIME / DAY →
      </div>

      <div style={abs({ left: 114, top: 1593, width: 972, height: 1, background: "#e2dbd3" })} />
      <div style={abs({ left: 114, top: 1601, fontFamily: SANS, fontSize: 6.5, lineHeight: "9px", letterSpacing: 0.5, color: "#9a948e" })}>
        © 2026 ISOTIDES.ART
      </div>

      <div style={abs({ left: 0, top: 0 })}>
        <ScatterChart width={W} height={H} margin={{ top: 203.9, right: 117, bottom: 110.9, left: 135 }}>
          <CartesianGrid stroke="#ebe4dc" strokeWidth={0.6} />
          <XAxis
            type="number"
            dataKey="x"
            orientation="top"
            height={20}
            domain={[1, 31]}
            ticks={DAY_TICKS}
            interval={0}
            axisLine={false}
            tickLine={false}
            tick={DayTick}
          />
          <YAxis
            yAxisId="m"
            type="number"
            dataKey="y"
            width={60}
            domain={[Y_MIN, Y_MAX]}
            reversed
            ticks={monthTicks}
            interval={0}
            axisLine={false}
            tickLine={false}
            tick={MonthTick}
          />
          <YAxis
            type="number"
            dataKey="y"
            width={14}
            domain={[Y_MIN, Y_MAX]}
            reversed
            ticks={hourTicks}
            interval={0}
            axisLine={false}
            tickLine={false}
            tick={HourTick}
          />
          {series.map((s) => (
            <Scatter
              key={s.key}
              data={s.data}
              line={{ stroke: s.tide === "high" ? BLUE_LINE : GOLD_LINE, strokeWidth: 0.9 }}
              lineType="joint"
              shape={s.tide === "high" ? highDot : lowDot}
              isAnimationActive={false}
            />
          ))}
          <Scatter yAxisId="m" data={newMoons} shape={newMoonDot} isAnimationActive={false} />
          <Scatter yAxisId="m" data={fullMoons} shape={fullMoonDot} isAnimationActive={false} />
        </ScatterChart>
      </div>
    </div>
  );
}
